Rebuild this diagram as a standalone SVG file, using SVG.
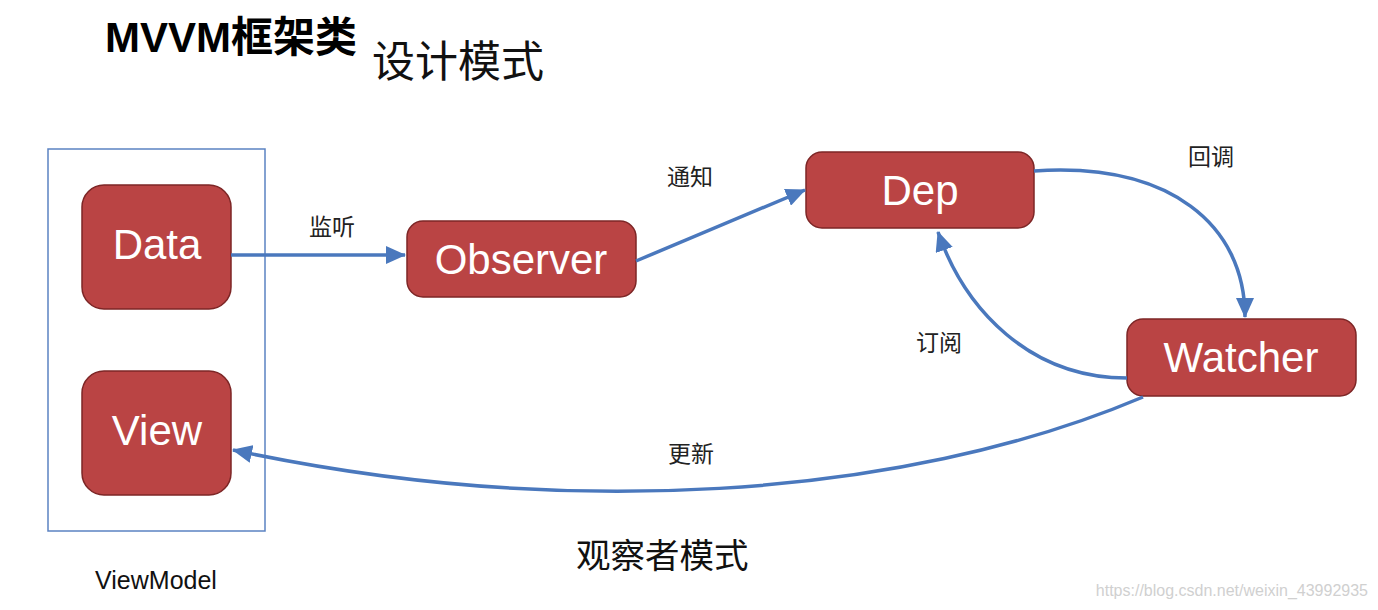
<svg xmlns="http://www.w3.org/2000/svg" width="1378" height="610" viewBox="0 0 1378 610">
<style>
.node rect{fill:#ba4444;stroke:#7d2626;stroke-width:1.5}
.node text{fill:#ffffff;font-family:"Liberation Sans",Arial,sans-serif;font-size:42px;text-anchor:middle}
.conn path{fill:none;stroke:#4a78bd;stroke-width:3.5}
.lbl{font-family:"Noto Sans CJK SC","Noto Sans",sans-serif;font-size:23px;fill:#222}
</style>
<defs>
<marker id="ah" markerUnits="userSpaceOnUse" markerWidth="22" markerHeight="18" refX="19" refY="9" orient="auto">
<path d="M0,0 L20,9 L0,18 Z" fill="#4a78bd"/>
</marker>
</defs>
<rect width="1378" height="610" fill="#ffffff"/>
<text x="105" y="52" font-family="'Liberation Sans','Noto Sans CJK SC',sans-serif" font-weight="bold" font-size="42" fill="#000">MVVM<tspan font-family="'Noto Sans CJK SC',sans-serif">框架类</tspan></text>
<text x="372" y="77" font-family="'Noto Sans CJK SC',sans-serif" font-size="43" fill="#111">设计模式</text>
<g id="viewmodel">
<rect x="48" y="149" width="217" height="382" fill="none" stroke="#5b82c2" stroke-width="1.5"/>
<text x="156" y="589" font-family="'Liberation Sans',Arial,sans-serif" font-size="25" fill="#111" text-anchor="middle">ViewModel</text>
</g>
<g id="data" class="node"><rect x="82" y="185" width="149" height="124" rx="22"/><text x="157" y="259">Data</text></g>
<g id="view" class="node"><rect x="82" y="371" width="149" height="124" rx="22"/><text x="157" y="445">View</text></g>
<g id="observer" class="node"><rect x="407" y="221" width="229" height="76" rx="16"/><text x="521" y="274">Observer</text></g>
<g id="dep" class="node"><rect x="806" y="152" width="228" height="76" rx="16"/><text x="920" y="205">Dep</text></g>
<g id="watcher" class="node"><rect x="1127" y="319" width="229" height="77" rx="16"/><text x="1241" y="372">Watcher</text></g>
<g id="connectors" class="conn">
<path d="M231,255 L405,255" marker-end="url(#ah)"/>
<path d="M636,261 L805,190" marker-end="url(#ah)"/>
<path d="M1034,171 C1170,162 1245,225 1245,317" marker-end="url(#ah)"/>
<path d="M1127,378 C1030,378 965,310 938,232" marker-end="url(#ah)"/>
<path d="M1143,397 C900,500 560,520 233,450" marker-end="url(#ah)"/>
</g>
<g id="labels">
<text class="lbl" x="309" y="235">监听</text>
<text class="lbl" x="667" y="185">通知</text>
<text class="lbl" x="1188" y="165">回调</text>
<text class="lbl" x="916" y="351">订阅</text>
<text class="lbl" x="668" y="462">更新</text>
<text x="576" y="568" font-family="'Noto Sans CJK SC',sans-serif" font-size="34.5" fill="#111">观察者模式</text>
</g>
<text x="1368" y="596" font-family="'Liberation Sans',Arial,sans-serif" font-size="16" fill="#d0d0d0" text-anchor="end">https://blog.csdn.net/weixin_43992935</text>
</svg>
